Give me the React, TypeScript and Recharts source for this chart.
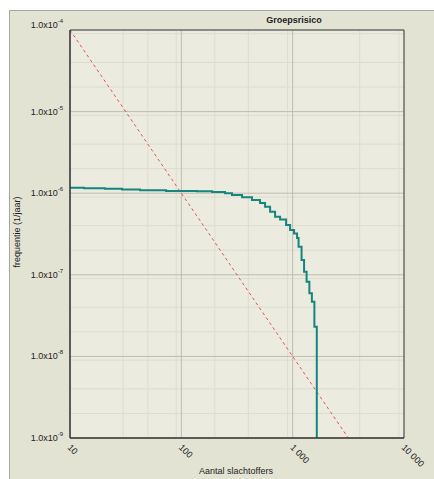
import React from 'react';
import { LineChart, Line, XAxis, YAxis, CartesianGrid, ReferenceLine } from 'recharts';

// FN curve (number of victims N, frequency F per year)
const fnN = [10, 13.4, 20.6, 29.3, 42.6, 72.9, 138, 189, 247, 285, 351, 431, 509, 565, 627, 695, 771, 873, 948, 1029, 1095, 1130, 1202, 1266, 1334, 1413, 1488, 1567, 1647];
const fnF = [1.168e-6, 1.148e-6, 1.132e-6, 1.107e-6, 1.085e-6, 1.064e-6, 1.055e-6, 1.035e-6, 9.97e-7, 9.5e-7, 8.9e-7, 8.25e-7, 7.59e-7, 6.84e-7, 5.93e-7, 5.15e-7, 4.76e-7, 4.07e-7, 3.54e-7, 3.21e-7, 2.82e-7, 2.21e-7, 1.52e-7, 1.09e-7, 8.23e-8, 5.93e-8, 4.68e-8, 2.31e-8, 1e-9];

// orientation value line
const normN = [10, 100, 1000, 3162];
const normF = [1e-4, 1e-6, 1e-8, 1e-9];

const xTicks = [10, 100, 1000, 10000];
const xTickLabels = ['10', '100', '1 000', '10 000'];
const yTicks = [1e-9, 1e-8, 1e-7, 1e-6, 1e-5, 1e-4];
const yTickExp = ['-9', '-8', '-7', '-6', '-5', '-4'];

const minorSteps = [2, 3, 4, 5, 6, 7, 8, 9];
const minorX = [10, 100, 1000].flatMap((d) => minorSteps.map((m) => d * m));
const minorY = [1e-9, 1e-8, 1e-7, 1e-6, 1e-5].flatMap((d) => minorSteps.map((m) => d * m));

const fnData = fnN.map((n, i) => ({ n, f: fnF[i] }));
const normData = normN.map((n, i) => ({ n, f: normF[i] }));

const FONT = '"Liberation Sans", Arial, sans-serif';

function YTick({ x, y, payload }: any) {
  const i = yTicks.findIndex((v) => Math.abs(v - payload.value) / v < 1e-6);
  const dy = i === yTicks.length - 1 ? -5 : 0;
  return (
    <text x={x - 7} y={y + dy + 3} textAnchor="end" fontSize={9} fill="#222" fontFamily={FONT}>
      <tspan>1.0x10</tspan>
      <tspan dy={-5} fontSize={6}>{yTickExp[i]}</tspan>
    </text>
  );
}

function XTick({ x, y, payload }: any) {
  const i = xTicks.indexOf(payload.value);
  const tx = x - 3;
  const ty = y + 10;
  return (
    <text x={tx} y={ty} transform={`rotate(45 ${tx} ${ty})`} textAnchor="start" fontSize={9} fill="#222" fontFamily={FONT}>
      {xTickLabels[i]}
    </text>
  );
}

export default function App() {
  return (
    <div
      style={{
        position: 'fixed',
        left: 9,
        top: 10,
        width: 425,
        height: 469,
        boxSizing: 'border-box',
        borderLeft: '1px solid #a9a99a',
        borderTop: '1px solid #a9a99a',
        background: '#e3e3d4',
        overflow: 'hidden',
        fontFamily: FONT,
        color: '#222',
      }}
    >
      <div style={{ position: 'absolute', left: 234, top: 3, width: 100, lineHeight: '12px', fontSize: 9, fontWeight: 'bold', textAlign: 'center' }}>
        Groepsrisico
      </div>
      <div style={{ position: 'absolute', left: -43, top: 215, width: 100, lineHeight: '12px', fontSize: 9, textAlign: 'center', transform: 'rotate(-90deg)' }}>
        frequentie (1/jaar)
      </div>
      <div style={{ position: 'absolute', left: 176, top: 455, width: 100, lineHeight: '11px', fontSize: 9, textAlign: 'center' }}>
        Aantal slachtoffers
      </div>
      <LineChart width={424} height={468} margin={{ top: 19, right: 30, left: 0, bottom: 0 }}>
        <CartesianGrid fill="#ebebdf" stroke="#dcdcd0" strokeWidth={1} horizontalValues={minorY} verticalValues={minorX} />
        <CartesianGrid stroke="#bcbcb3" strokeWidth={1} horizontalValues={yTicks} verticalValues={xTicks} />
        <XAxis
          dataKey="n"
          type="number"
          scale="log"
          domain={[10, 10000]}
          ticks={xTicks}
          allowDataOverflow
          height={41}
          tickLine={false}
          tickSize={0}
          tickMargin={0}
          axisLine={{ stroke: '#333', strokeWidth: 1.5 }}
          tick={<XTick />}
        />
        <YAxis
          dataKey="f"
          type="number"
          scale="log"
          domain={[1e-9, 1e-4]}
          ticks={yTicks}
          allowDataOverflow
          width={60}
          tickLine={false}
          tickSize={0}
          tickMargin={0}
          axisLine={{ stroke: '#333', strokeWidth: 1.5 }}
          tick={<YTick />}
        />
        <ReferenceLine y={1e-4} stroke="#444" strokeWidth={1} />
        <ReferenceLine x={10000} stroke="#444" strokeWidth={1} />
        <Line data={normData} dataKey="f" type="linear" stroke="#e2564e" strokeWidth={1} strokeDasharray="3 3" dot={false} isAnimationActive={false} />
        <Line data={fnData} dataKey="f" type="stepAfter" stroke="#17857f" strokeWidth={2} dot={false} isAnimationActive={false} />
      </LineChart>
    </div>
  );
}
